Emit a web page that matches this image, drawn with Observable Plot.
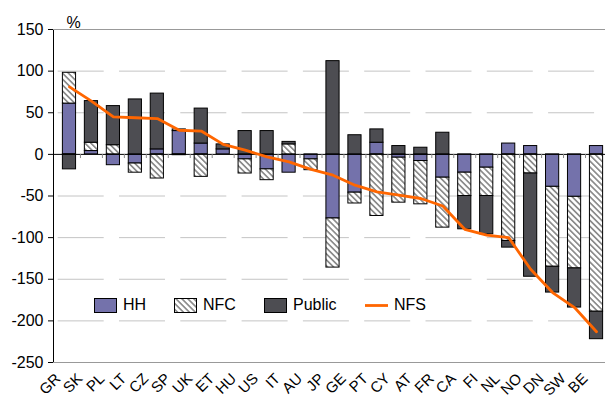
<!DOCTYPE html>
<html><head><meta charset="utf-8">
<script src="https://cdn.jsdelivr.net/npm/d3@7"></script>
<script src="https://cdn.jsdelivr.net/npm/@observablehq/plot@0.6"></script>
<style>
body{margin:0;background:#fff;font-family:"Liberation Sans",Arial,sans-serif;}
#wrap{position:relative;width:605px;height:407px;}
.item{position:absolute;top:297px;height:16px;display:flex;align-items:center;font-size:16px;color:#000;}
.item svg{margin-right:6px;}
</style></head><body>
<div id="wrap"></div>
<script>
const categories = ["GR","SK","PL","LT","CZ","SP","UK","ET","HU","US","IT","AU","JP","GE","PT","CY","AT","FR","CA","FI","NL","NO","DN","SW","BE"];
const HH     = [61, 4, -13, -11, 6, 28, 13, 6, -6, -18, -22, -6, -77, -46, 14, -4, -8, -28, -22, -16, 13, 10, -39, -51, 10];
const NFC    = [37, 10, 11, -11, -29, 2, -27, 0, -17, -13, 12, -13, -59, -13, -74, -54, -52, -60, -28, -34, -104, -23, -96, -86, -189];
const Public = [-18, 50, 47, 66, 67, -1, 42, 6, 28, 28, 3, 0, 112, 23, 16, 10, 8, 26, -40, -46, -8, -124, -31, -47, -33];
const NFS    = [81, 64, 45, 44, 43, 29, 28, 12, 5, -3, -9, -18, -25, -37, -45, -49, -53, -62, -90, -97, -100, -138, -166, -184, -213];
const seriesNames = ["HH","NFC","Public"];
const seriesColors = ["#7472ab","url(#hatch)","#4d4d52"];
const yTicks = [150,100,50,0,-50,-100,-150,-200,-250];
const gridValues = [100,50,-50,-100,-150,-200];

const rows = [];
categories.forEach((c,i) => {
  rows.push({cat:c, series:"HH", value:HH[i]});
  rows.push({cat:c, series:"NFC", value:NFC[i]});
  rows.push({cat:c, series:"Public", value:Public[i]});
});
const nfsRows = categories.map((c,i) => ({cat:c, value:NFS[i]}));

const chart = Plot.plot({
  width:605, height:407,
  marginLeft:53, marginRight:0, marginTop:29, marginBottom:45,
  style:{fontFamily:"Liberation Sans, Arial, sans-serif", fontSize:"16px", color:"#000", background:"#fff", overflow:"visible"},
  x:{domain:categories, range:[58,607], paddingInner:0.4, paddingOuter:0.2, round:false, axis:null},
  y:{domain:[-250,150], ticks:yTicks, tickSize:5, tickPadding:5, label:null, line:true, tickFormat:d=>String(d)},
  color:{type:"ordinal", domain:seriesNames, range:seriesColors},
  marks:[
    Plot.ruleY(gridValues, {stroke:"#c4c4c4", strokeDasharray:"46,15.3", strokeDashoffset:56.6}),
    Plot.ruleY([150], {stroke:"#999"}),
    Plot.ruleY([-250], {stroke:"#999"}),
    Plot.barY(rows.filter(d => d.value !== 0), {x:"cat", y:"value", z:"series", fill:"series", stroke:"#000", strokeWidth:1}),
    Plot.ruleY([0], {stroke:"#000"}),
    Plot.ruleX(categories.slice(1), {x:d=>d, y1:0, y2:-5, dx:-11, stroke:"#888"}),
    Plot.line(nfsRows, {x:"cat", y:"value", stroke:"#ff6600", strokeWidth:2.8}),
    Plot.text(categories, {x:d=>d, text:d=>d, frameAnchor:"bottom", rotate:-45, textAnchor:"end", dx:-8, dy:17, fontSize:15}),
    Plot.text(["%"], {text:d=>d, frameAnchor:"top-left", dx:20, dy:-13, textAnchor:"middle", fontSize:16})
  ]
});

const ns = "http://www.w3.org/2000/svg";
const defs = document.createElementNS(ns, "defs");
defs.innerHTML = '<pattern id="hatch" patternUnits="userSpaceOnUse" width="4.2" height="4.2" patternTransform="rotate(-45)">' +
  '<rect width="4.2" height="4.2" fill="#fff"/><rect x="0" y="0" width="1.7" height="4.2" fill="#8c8c8c"/></pattern>';
chart.insertBefore(defs, chart.firstChild);

const wrap = document.getElementById("wrap");
wrap.appendChild(chart);

const legendItems = [
  {name:"HH", left:94, kind:"rect", fill:seriesColors[0]},
  {name:"NFC", left:174, kind:"rect", fill:seriesColors[1]},
  {name:"Public", left:264, kind:"rect", fill:seriesColors[2]},
  {name:"NFS", left:365, kind:"line", fill:"#ff6600"}
];
legendItems.forEach(it => {
  const div = document.createElement("div");
  div.className = "item";
  div.style.left = it.left + "px";
  const sw = it.kind === "rect"
    ? `<svg width="23" height="15"><rect x="0.5" y="0.5" width="22" height="14" fill="${it.fill}" stroke="#000"/></svg>`
    : `<svg width="23" height="15"><line x1="0" x2="23" y1="7.5" y2="7.5" stroke="${it.fill}" stroke-width="2.8"/></svg>`;
  div.innerHTML = sw + `<span>${it.name}</span>`;
  wrap.appendChild(div);
});
</script>
</body></html>
